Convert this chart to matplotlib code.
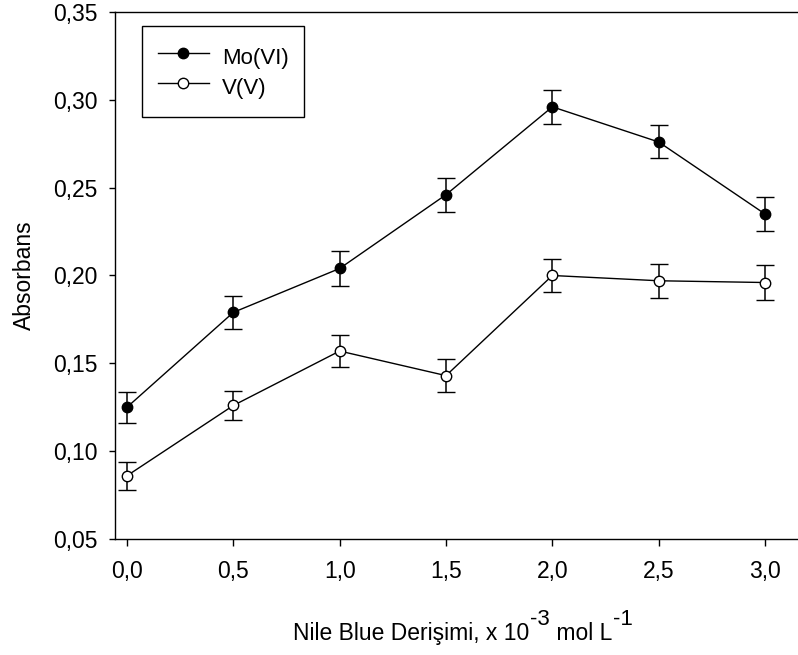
import numpy as np
import matplotlib
matplotlib.use("Agg")
import matplotlib.pyplot as plt
from matplotlib.lines import Line2D

plt.rcParams['font.family'] = ['Liberation Sans', 'DejaVu Sans']

# Nile Blue concentration (x 10^-3 mol/L)
conc = [0.0, 0.5, 1.0, 1.5, 2.0, 2.5, 3.0]

# absorbance values
mo_abs = [0.125, 0.179, 0.204, 0.246, 0.296, 0.276, 0.235]
mo_err = [0.0088, 0.0096, 0.0097, 0.0097, 0.0097, 0.0094, 0.0097]
v_abs = [0.086, 0.126, 0.157, 0.143, 0.200, 0.197, 0.196]
v_err = [0.0080, 0.0085, 0.0093, 0.0095, 0.0095, 0.0097, 0.0097]

x_ticks = [0.0, 0.5, 1.0, 1.5, 2.0, 2.5, 3.0]
x_ticklabels = ["0,0", "0,5", "1,0", "1,5", "2,0", "2,5", "3,0"]
y_ticks = [0.05, 0.10, 0.15, 0.20, 0.25, 0.30, 0.35]
y_ticklabels = ["0,05", "0,10", "0,15", "0,20", "0,25", "0,30", "0,35"]

fig = plt.figure(figsize=(7.98, 6.55), dpi=100)
ax = fig.add_axes([0.1441, 0.1771, 0.8559, 0.8046])

marker_kw = dict(color='black', lw=1.0, marker='o', ms=7.5, mec='black', mew=1.0)
err_kw = dict(ecolor='black', elinewidth=1.1, capsize=6.5, capthick=1.1)

ax.errorbar(conc, mo_abs, yerr=mo_err, mfc='black', **marker_kw, **err_kw)
ax.errorbar(conc, v_abs, yerr=v_err, mfc='white', **marker_kw, **err_kw)

ax.set_xlim(-0.0564, 3.155)
ax.set_ylim(0.05, 0.35)
ax.set_xticks(x_ticks)
ax.set_xticklabels(x_ticklabels)
ax.set_yticks(y_ticks)
ax.set_yticklabels(y_ticklabels)

ax.spines['right'].set_visible(False)
for s in ['left', 'top', 'bottom']:
    ax.spines[s].set_linewidth(1.0)

ax.tick_params(axis='x', direction='out', length=5, width=1.0, pad=10, labelsize=16.5)
ax.tick_params(axis='y', direction='out', length=4.3, width=1.0, pad=8, labelsize=16.5)

ax.set_ylabel("Absorbans", fontsize=16.5)
ax.yaxis.set_label_coords(-0.115, 0.5)

# x label: superscripts nearly full size, so build it from pieces
t1 = fig.text(293 / 798, 1 - 640 / 655, "Nile Blue Derişimi, x 10", fontsize=16.5,
              ha='left', va='baseline')
t2 = ax.annotate("-3", xy=(1, 0), xycoords=t1, xytext=(0.5, 11), textcoords='offset points',
                 fontsize=16, ha='left', va='bottom')
t3 = ax.annotate(" mol L", xy=(1, 0), xycoords=(t2, t1), xytext=(0, 0),
                 textcoords='offset points', fontsize=16.5, ha='left', va='bottom')
ax.annotate("-1", xy=(1, 0), xycoords=t3, xytext=(0.5, 11), textcoords='offset points',
            fontsize=16, ha='left', va='bottom')

handles = [Line2D([], [], mfc='black', **marker_kw),
           Line2D([], [], mfc='white', **marker_kw)]
leg = ax.legend(handles, ['Mo(VI)', 'V(V)'], loc='upper left',
                bbox_to_anchor=(0.0395, 0.9734), borderaxespad=0,
                fontsize=16, handlelength=2.3, handleheight=1.7, handletextpad=0.6,
                borderpad=0.7, labelspacing=0.0, fancybox=False, framealpha=1,
                edgecolor='black')
leg.get_frame().set_linewidth(1.0)

fig.savefig("out.png", dpi=100)
